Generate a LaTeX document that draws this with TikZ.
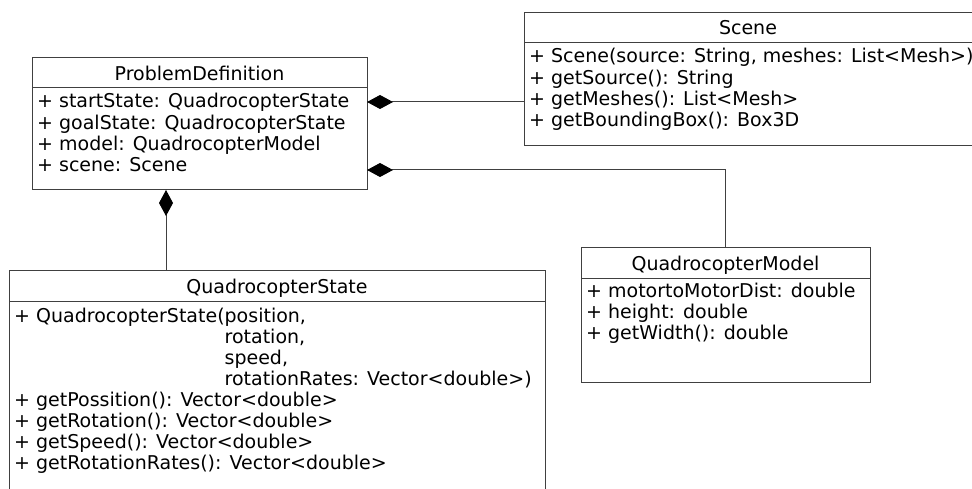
\documentclass[tikz,border=0pt]{standalone}
\usepackage{fontspec}
\setmainfont{DejaVu Sans}
\usetikzlibrary{arrows.meta}

\begin{document}
\begin{tikzpicture}[x=1pt,y=-1pt,
  umlbox/.style={draw=black!75, line width=1pt, fill=white, anchor=north west,
    inner sep=0pt, outer sep=0pt},
  sepline/.style={draw=black!75, line width=1pt},
  rowtext/.style={anchor=base west, inner sep=0pt, font=\fontsize{19}{21}\selectfont},
  titletext/.style={anchor=base, inner sep=0pt, font=\fontsize{19}{21}\selectfont},
  comp/.style={draw=black!75, line width=1pt,
    {Diamond[length=26pt,width=14pt,color=black]}-}
]
\clip (0,0) rectangle (972,489);

% class boxes
\node[umlbox, minimum width=335pt, minimum height=132pt] (pd) at (32,58) {};
\node[umlbox, minimum width=452pt, minimum height=133pt] (scene) at (524,13) {};
\node[umlbox, minimum width=536pt, minimum height=240pt] (state) at (9,270) {};
\node[umlbox, minimum width=289pt, minimum height=134pt] (model) at (581,248) {};

% title separators
\draw[sepline] ([yshift=-30pt]pd.north west) -- ([yshift=-30pt]pd.north east);
\draw[sepline] ([yshift=-30pt]scene.north west) -- ([yshift=-30pt]scene.north east);
\draw[sepline] ([yshift=-31pt]state.north west) -- ([yshift=-31pt]state.north east);
\draw[sepline] ([yshift=-30pt]model.north west) -- ([yshift=-30pt]model.north east);

% ProblemDefinition
\node[titletext] (pd-t) at (199.5,81) {ProblemDefinition};
\node[rowtext] (pd-r1) at (37,108) {+ startState: QuadrocopterState};
\node[rowtext] (pd-r2) at (37,129.2) {+ goalState: QuadrocopterState};
\node[rowtext] (pd-r3) at (37,150.4) {+ model: QuadrocopterModel};
\node[rowtext] (pd-r4) at (37,171.6) {+ scene: Scene};

% Scene
\node[titletext] (sc-t) at (748,35) {Scene};
\node[rowtext] (sc-r1) at (529,63) {+ Scene(source: String, meshes: List<Mesh>)};
\node[rowtext] (sc-r2) at (529,84.2) {+ getSource(): String};
\node[rowtext] (sc-r3) at (529,105.4) {+ getMeshes(): List<Mesh>};
\node[rowtext] (sc-r4) at (529,126.6) {+ getBoundingBox(): Box3D};

% QuadrocopterState
\node[titletext] (st-t) at (277,293) {QuadrocopterState};
\node[rowtext] (st-r1) at (14,322) {+ QuadrocopterState(position,};
\node[rowtext] (st-r2) at (14,343) {\phantom{+ QuadrocopterState(}rotation,};
\node[rowtext] (st-r3) at (14,364) {\phantom{+ QuadrocopterState(}speed,};
\node[rowtext] (st-r4) at (14,385) {\phantom{+ QuadrocopterState(}rotationRates: Vector<double>)};
\node[rowtext] (st-r5) at (14,406) {+ getPossition(): Vector<double>};
\node[rowtext] (st-r6) at (14,427) {+ getRotation(): Vector<double>};
\node[rowtext] (st-r7) at (14,448) {+ getSpeed(): Vector<double>};
\node[rowtext] (st-r8) at (14,469) {+ getRotationRates(): Vector<double>};

% QuadrocopterModel
\node[titletext] (md-t) at (725.5,270) {QuadrocopterModel};
\node[rowtext] (md-r1) at (586,297) {+ motortoMotorDist: double};
\node[rowtext] (md-r2) at (586,318.2) {+ height: double};
\node[rowtext] (md-r3) at (586,339.4) {+ getWidth(): double};

% connector levels
\coordinate (jA) at (0,102);
\coordinate (jB) at (0,170);
\coordinate (jC) at (166,0);

% composition connectors
\draw[comp] (pd.east |- jA) -- (scene.west |- jA);
\draw[comp] (pd.east |- jB) -| (model.north);
\draw[comp] (pd.south -| jC) -- (state.north -| jC);
\end{tikzpicture}
\end{document}
